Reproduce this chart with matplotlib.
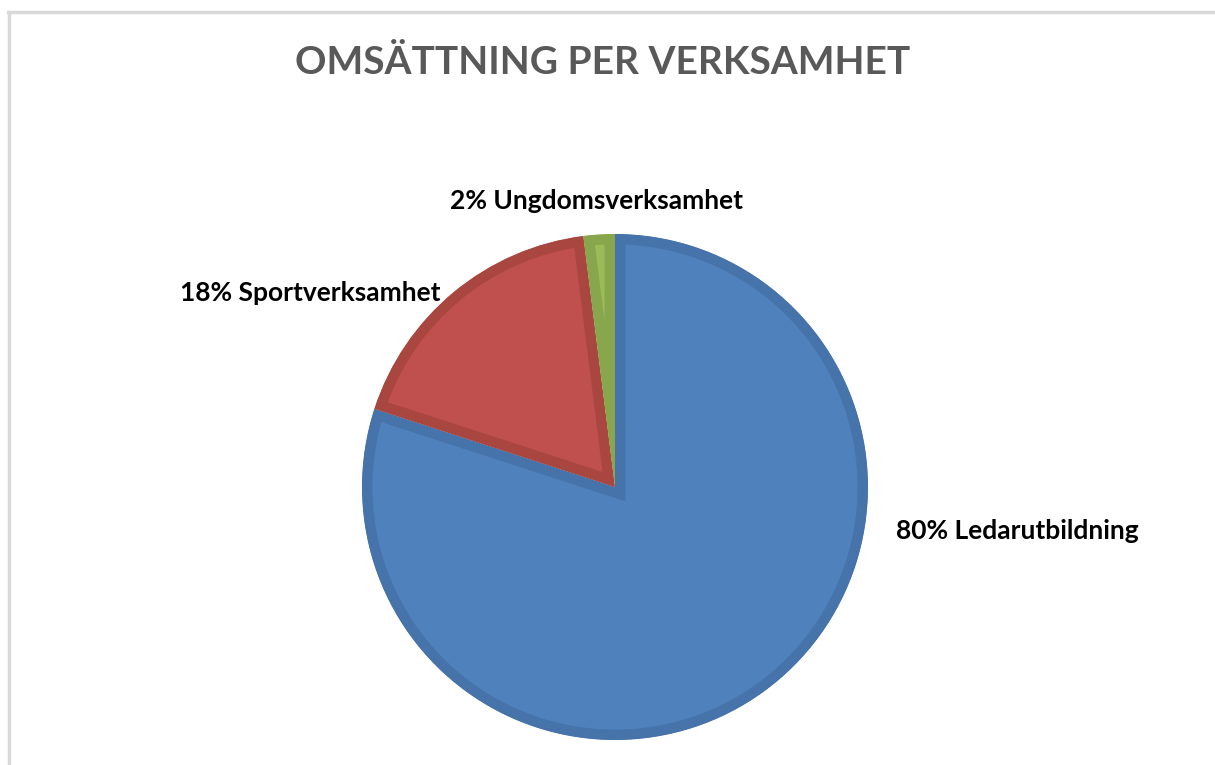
import matplotlib.pyplot as plt
from matplotlib.lines import Line2D
from matplotlib.patches import PathPatch

# data
categories = ['Ledarutbildning', 'Sportverksamhet', 'Ungdomsverksamhet']
shares = [80, 18, 2]
colors = ['#4F81BD', '#C0504D', '#9BBB59']
edge_colors = ['#4673AA', '#A9463F', '#88A64C']

# label layout (pixels, alignment)
label_pos = [(896, 531, 'left'), (441, 293, 'right'), (596, 201, 'center')]


def make_chart():
    fig = plt.figure(figsize=(12.15, 7.65), dpi=100)
    ax = fig.add_axes([0, 0, 1, 1])
    ax.set_xlim(0, 1215)
    ax.set_ylim(765, 0)
    ax.axis('off')

    # frame of the chart area (cut off at bottom / right)
    fig.add_artist(Line2D([8, 1215], [765 - 12, 765 - 12], transform=None,
                          color='#D9D9D9', lw=2.5))
    fig.add_artist(Line2D([9, 9], [0, 765 - 12], transform=None,
                          color='#D9D9D9', lw=2.5))

    # pie in its own axes so the direction stays normal
    cx, cy, r = 615, 487, 253 * 1.02
    pax = fig.add_axes([(cx - r) / 1215, (765 - cy - r) / 765,
                        2 * r / 1215, 2 * r / 765])
    wedges, _ = pax.pie(shares, colors=colors, startangle=90,
                        counterclock=False, radius=1)
    pax.set_xlim(-1.02, 1.02)
    pax.set_ylim(-1.02, 1.02)
    pax.axis('off')
    for w, ec in zip(wedges, edge_colors):
        # inset darker rim, clipped to a copy of the wedge
        clip = PathPatch(w.get_path(), transform=w.get_transform())
        w.set_edgecolor(ec)
        w.set_linewidth(15)
        w.set_clip_on(True)
        w.set_clip_path(clip)
        w.set_clip_box(None)

    ax.text(603, 62, 'OMSÄTTNING PER VERKSAMHET', ha='center', va='center',
            fontsize=28, fontweight='bold', color='#595959', family='Lato')

    for cat, share, (x, y, align) in zip(categories, shares, label_pos):
        ax.text(x, y, f'{share}% {cat}', ha=align, va='center',
                fontsize=19, fontweight='bold', color='black', family='Lato')

    fig.savefig('out.png', dpi=100)


if __name__ == '__main__':
    make_chart()
